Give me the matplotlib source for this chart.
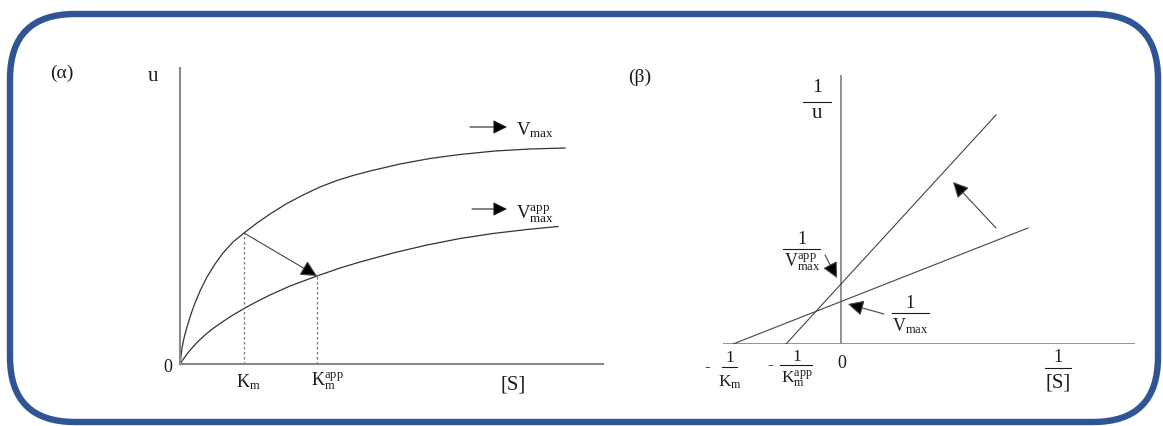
import matplotlib
matplotlib.use("Agg")
import matplotlib.pyplot as plt
from matplotlib.patches import FancyBboxPatch

plt.rcParams['font.family'] = ['Liberation Serif', 'DejaVu Serif']
plt.rcParams['mathtext.fontset'] = 'custom'
plt.rcParams['mathtext.rm'] = 'Liberation Serif'
plt.rcParams['mathtext.it'] = 'Liberation Serif:italic'
plt.rcParams['mathtext.bf'] = 'Liberation Serif:bold'

W, H = 1163, 426

# (alpha) Michaelis-Menten curves
upper_S = [0, 0.2, 0.4, 0.7, 1.1, 1.5, 2.0, 2.7, 3.5, 4.3, 5.3, 6.4, 7.7, 9.0,
           10.6, 12.3, 14.0, 15.7, 17.3, 19.0, 22.0, 25.0, 28.0, 31.5, 35.0, 38.5]
upper_u = [0, 1.6, 2.6, 3.7, 5.0, 6.1, 7.3, 8.7, 10.0, 11.1, 12.2, 13.1, 14.1, 15.0,
           16.0, 16.9, 17.7, 18.35, 18.85, 19.3, 20.0, 20.55, 20.95, 21.3, 21.5, 21.6]
lower_S = [0, 0.3, 0.7, 1.2, 1.8, 2.5, 3.3, 4.3, 5.3, 6.4, 7.7, 9.0, 11.0, 13.7,
           16.0, 18.0, 21.3, 24.7, 28.0, 31.3, 34.7, 37.8]
lower_u = [0, 0.45, 1.0, 1.6, 2.25, 2.9, 3.55, 4.25, 4.9, 5.55, 6.25, 6.9, 7.8, 8.8,
           9.6, 10.2, 11.1, 11.9, 12.55, 13.05, 13.45, 13.75]
Km = 6.4
Km_app = 13.7
u_Km = 13.1
u_Km_app = 8.8

# (beta) Lineweaver-Burk lines
inv_Km = -10.8
inv_Km_app = -5.5
low_x = [inv_Km, 18.7]
low_y = [0, 11.6]
steep_x = [inv_Km_app, 15.5]
steep_y = [0, 22.9]

AX_C = '#8a8a8a'
LN_C = '#333333'
TXT = '#1a1a1a'
BLUE = '#2f5597'

fig = plt.figure(figsize=(W / 100, H / 100), dpi=100)

# frame
bg = fig.add_axes([0, 0, 1, 1])
bg.set_xlim(0, W)
bg.set_ylim(H, 0)
bg.axis('off')
bg.add_patch(FancyBboxPatch((10, 14), 1148, 408,
                            boxstyle="round,pad=0,rounding_size=65",
                            fc='none', ec=BLUE, lw=4.6))


def arrow(ax, start, end, lw=0.8, color='#444444', ms=17):
    ax.annotate('', xy=end, xytext=start,
                arrowprops=dict(arrowstyle='-|>,head_length=0.5,head_width=0.25',
                                color=color, lw=lw, mutation_scale=ms,
                                shrinkA=0, shrinkB=0, fc='black'),
                annotation_clip=False)


def frac(ax, x, y_bar, num, den, x0, x1, fs=12, dn=1.0, dd=-1.35, fs_den=None):
    ax.text(x, y_bar + dn, num, ha='center', va='center', fontsize=fs, color=TXT)
    ax.plot([x0, x1], [y_bar, y_bar], color=TXT, lw=0.8, clip_on=False)
    ax.text(x, y_bar + dd, den, ha='center', va='center',
            fontsize=fs_den or fs, color=TXT)


# ---- panel (alpha) ----
ax1 = fig.add_axes([180 / W, 1 - 364 / H, 423 / W, 296 / H])
ax1.set_xlim(0, 42.3)
ax1.set_ylim(0, 29.6)
ax1.patch.set_visible(False)
for s in ['top', 'right']:
    ax1.spines[s].set_visible(False)
for s in ['left', 'bottom']:
    ax1.spines[s].set_color(AX_C)
    ax1.spines[s].set_linewidth(1.5)
ax1.set_xticks([])
ax1.set_yticks([])

ax1.plot(upper_S, upper_u, color=LN_C, lw=0.9, solid_joinstyle='round')
ax1.plot(lower_S, lower_u, color=LN_C, lw=0.9, solid_joinstyle='round')
ax1.plot([Km, Km], [0, u_Km], color='#777777', lw=0.9, ls=(0, (2, 2)))
ax1.plot([Km_app, Km_app], [0, u_Km_app], color='#777777', lw=0.9, ls=(0, (2, 2)))
arrow(ax1, (Km, u_Km), (Km_app, u_Km_app), ms=20)

arrow(ax1, (29.0, 23.7), (32.7, 23.7), color='#222222')
ax1.text(33.6, 23.4, r'$\mathrm{V}_{\mathrm{max}}$', ha='left', va='center', fontsize=13.5, color=TXT)
arrow(ax1, (29.2, 15.5), (32.7, 15.5), color='#222222')
ax1.text(33.6, 15.0, r'$\mathrm{V}_{\mathrm{max}}^{\mathrm{app}}$', ha='left', va='center', fontsize=13.5, color=TXT)

ax1.text(-1.2, -0.3, '0', ha='center', va='center', fontsize=13, color=TXT)
ax1.text(Km + 0.4, -1.8, r'$\mathrm{K}_{\mathrm{m}}$', ha='center', va='center', fontsize=13, color=TXT)
ax1.text(Km_app + 1.0, -1.7, r'$\mathrm{K}_{\mathrm{m}}^{\mathrm{app}}$', ha='center', va='center', fontsize=13, color=TXT)
ax1.text(33.3, -2.1, '[S]', ha='center', va='center', fontsize=15, color=TXT)
ax1.text(-2.7, 28.8, 'u', ha='center', va='center', fontsize=15, color=TXT)
fig.text(62 / W, 1 - 73 / H, '(α)', ha='center', va='center', fontsize=14, color=TXT)

# ---- panel (beta) ----
ax2 = fig.add_axes([723 / W, 1 - 344 / H, 412 / W, 269 / H])
ax2.set_xlim(-11.8, 29.4)
ax2.set_ylim(0, 26.9)
ax2.patch.set_visible(False)
ax2.axis('off')
ax2.axhline(0, color=AX_C, lw=1.3)
ax2.axvline(0, color=AX_C, lw=1.3)

ax2.plot(low_x, low_y, color='#444444', lw=0.8)
ax2.plot(steep_x, steep_y, color='#444444', lw=0.8)

arrow(ax2, (-1.6, 8.9), (-0.4, 6.6), ms=19)
arrow(ax2, (4.3, 3.0), (0.7, 4.0), ms=19)
arrow(ax2, (15.5, 11.6), (11.2, 16.2), ms=19)

frac(ax2, -2.4, 24.2, '1', 'u', -3.8, -1.0, fs=14, dn=1.5, dd=-1.1, fs_den=15)
frac(ax2, -3.9, 9.5, '1', r'$\mathrm{V}_{\mathrm{max}}^{\mathrm{app}}$', -5.8, -2.1, fs=13)
frac(ax2, 6.9, 3.1, '1', r'$\mathrm{V}_{\mathrm{max}}$', 5.1, 8.8, fs=13)
frac(ax2, -11.1, -2.3, '1', r'$\mathrm{K}_{\mathrm{m}}$', -11.9, -10.4, fs=12.5, dn=0.9, dd=-1.5)
ax2.text(-13.4, -2.3, '-', ha='center', va='center', fontsize=12.5, color=TXT)
frac(ax2, -4.4, -2.1, '1', r'$\mathrm{K}_{\mathrm{m}}^{\mathrm{app}}$', -6.1, -2.9, fs=12.5, dn=0.8, dd=-1.35)
ax2.text(-7.1, -2.1, '-', ha='center', va='center', fontsize=12.5, color=TXT)
ax2.text(0.1, -1.9, '0', ha='center', va='center', fontsize=13, color=TXT)
frac(ax2, 21.7, -2.4, '1', '[S]', 20.4, 23.0, fs=13, dn=1.0, dd=-1.5, fs_den=15)
fig.text(640 / W, 1 - 77 / H, '(β)', ha='center', va='center', fontsize=14, color=TXT)

fig.savefig('out.png', dpi=100)
